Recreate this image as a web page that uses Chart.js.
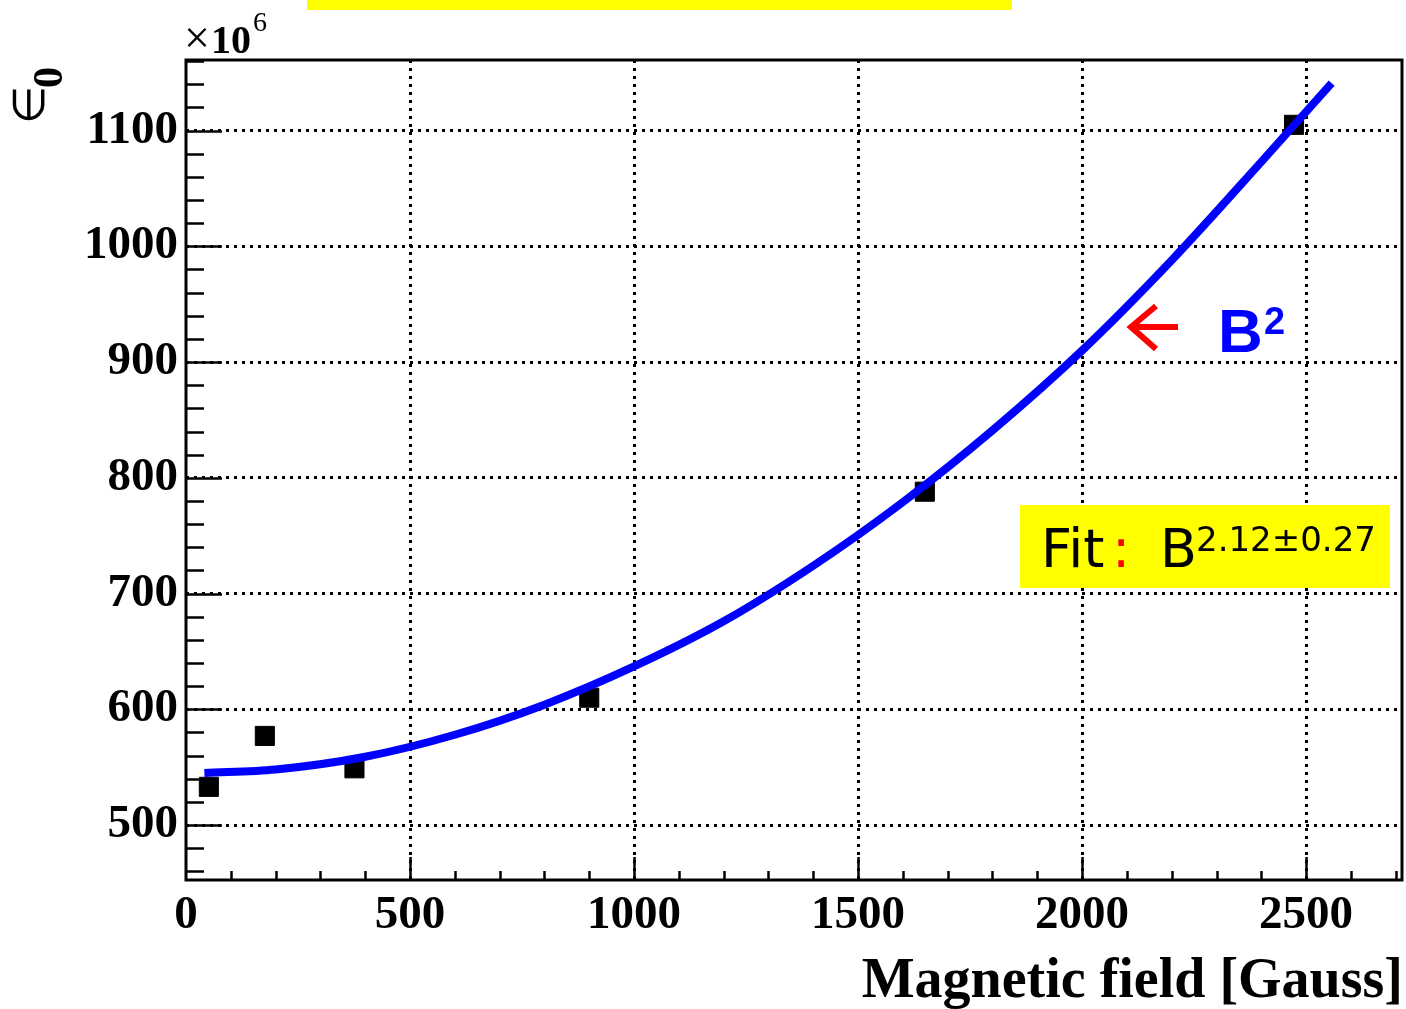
<!DOCTYPE html>
<html>
<head>
<meta charset="utf-8">
<title>epsilon0 vs magnetic field</title>
<script src="https://cdn.jsdelivr.net/npm/chart.js@4.4.0/dist/chart.umd.min.js"></script>
<style>
  html, body { margin: 0; padding: 0; background: #ffffff; }
  #wrap { width: 1406px; height: 1009px; }
</style>
</head>
<body>
<div id="wrap"><canvas id="fieldChart" width="1406" height="1009"></canvas></div>
<script>
// Measured points (x in Gauss, y in units of 10^6)
const fieldGauss = [51, 176, 376, 900, 1649, 2473];
const epsilon0 = [533, 577, 549, 610, 788, 1105];

// Fit curve
const fitField = [41, 200, 400, 600, 800, 1000, 1200, 1400, 1600, 1800, 2000, 2200, 2400, 2557];
const fitEps = [545, 548, 559, 578, 604, 637, 676, 724, 779, 841, 910, 988, 1073, 1141];

// Axis labels (major ticks)
const xMajorTicks = [0, 500, 1000, 1500, 2000, 2500];
const yMajorTicks = [500, 600, 700, 800, 900, 1000, 1100];

const serif = "'Liberation Serif', 'Times New Roman', serif";
const sans = "'Liberation Sans', Arial, sans-serif";
const comic = "'Comic Sans MS', 'DejaVu Sans', sans-serif";

// ROOT style frame, inner ticks and annotations
const rootFrame = {
  id: 'rootFrame',
  afterDraw(chart) {
    const { ctx, chartArea: a, scales: { x, y } } = chart;
    ctx.save();

    // ticks inside the frame
    ctx.strokeStyle = '#000';
    ctx.lineWidth = 2.5;
    ctx.beginPath();
    for (let v = Math.ceil(y.min / 20) * 20; v <= y.max; v += 20) {
      const py = Math.round(y.getPixelForValue(v)) + 0.5;
      const len = v % 100 === 0 ? 36 : 18;
      ctx.moveTo(a.left, py);
      ctx.lineTo(a.left + len, py);
    }
    for (let v = 100; v <= x.max; v += 100) {
      const px = Math.round(x.getPixelForValue(v)) + 0.5;
      const len = v % 500 === 0 ? 23 : 9;
      ctx.moveTo(px, a.bottom);
      ctx.lineTo(px, a.bottom - len);
    }
    ctx.stroke();

    // frame
    ctx.lineWidth = 3;
    ctx.strokeRect(a.left, a.top, a.right - a.left, a.bottom - a.top);

    // cut-off yellow title box at the very top
    ctx.fillStyle = '#ffff00';
    ctx.fillRect(307, 0, 705, 10);

    // x10^6
    ctx.fillStyle = '#000';
    ctx.textBaseline = 'alphabetic';
    ctx.textAlign = 'left';
    ctx.font = '46px ' + serif;
    ctx.fillText('\u00d7', 184, 53);
    ctx.font = 'bold 40px ' + serif;
    ctx.fillText('10', 211, 53);
    ctx.font = '28px ' + serif;
    ctx.fillText('6', 253, 31);

    // y axis title: epsilon_0, rotated
    ctx.save();
    ctx.translate(44, 124);
    ctx.rotate(-Math.PI / 2);
    ctx.font = '44px ' + serif;
    ctx.fillText('\u2208', 0, 0);
    ctx.font = 'bold 42px ' + serif;
    ctx.fillText('0', 36, 18);
    ctx.restore();

    // x axis title
    ctx.textAlign = 'right';
    ctx.font = 'bold 56px ' + serif;
    ctx.fillText('Magnetic field [Gauss]', 1403, 997);

    // red arrow pointing at the curve
    ctx.strokeStyle = '#ff0000';
    ctx.lineWidth = 6;
    ctx.lineCap = 'butt';
    ctx.beginPath();
    ctx.moveTo(1178, 327);
    ctx.lineTo(1130, 327);
    ctx.moveTo(1156, 306);
    ctx.lineTo(1131, 327);
    ctx.lineTo(1156, 349);
    ctx.stroke();

    // B^2 label
    ctx.fillStyle = '#0000ff';
    ctx.textAlign = 'left';
    ctx.font = 'bold 62px ' + sans;
    ctx.fillText('B', 1218, 352);
    ctx.font = 'bold 38px ' + sans;
    ctx.fillText('2', 1264, 334);

    // fit result box
    ctx.fillStyle = '#ffff00';
    ctx.fillRect(1020, 505, 370, 83);
    ctx.fillStyle = '#000';
    ctx.font = '54px ' + comic;
    ctx.fillText('Fit', 1041, 567);
    ctx.fillStyle = '#ff0000';
    ctx.fillText(':', 1112, 567);
    ctx.fillStyle = '#000';
    ctx.fillText('B', 1160, 567);
    ctx.font = '34px ' + comic;
    ctx.fillText('2.12\u00b10.27', 1196, 551);

    ctx.restore();
  }
};

new Chart(document.getElementById('fieldChart'), {
  type: 'scatter',
  data: {
    datasets: [
      {
        label: 'fit',
        data: fitField.map((v, i) => ({ x: v, y: fitEps[i] })),
        showLine: true,
        borderColor: '#0000ff',
        borderWidth: 8,
        cubicInterpolationMode: 'monotone',
        pointRadius: 0,
        fill: false
      },
      {
        label: 'data',
        data: fieldGauss.map((v, i) => ({ x: v, y: epsilon0[i] })),
        pointStyle: 'rect',
        pointRadius: 13.5,
        pointBackgroundColor: '#000',
        pointBorderColor: '#000',
        pointBorderWidth: 1
      }
    ]
  },
  options: {
    responsive: false,
    animation: false,
    layout: {
      autoPadding: false,
      padding: { top: 60, right: 4, bottom: 0, left: 0 }
    },
    plugins: {
      legend: { display: false },
      tooltip: { enabled: false }
    },
    scales: {
      x: {
        type: 'linear',
        min: 0,
        max: 2714,
        afterFit(scale) {
          scale.height = 129;
          scale.paddingLeft = 0;
          scale.paddingRight = 0;
        },
        afterBuildTicks(scale) { scale.ticks = xMajorTicks.map(v => ({ value: v })); },
        grid: {
          drawTicks: false,
          color: ctx => (ctx.tick && ctx.tick.value === 0 ? 'rgba(0,0,0,0)' : '#000'),
          lineWidth: 3
        },
        border: { display: false, dash: [3, 5] },
        ticks: {
          autoSkip: false,
          maxRotation: 0,
          padding: 8,
          color: '#000',
          font: { family: serif, size: 47, weight: 'bold' },
          callback: v => String(v)
        }
      },
      y: {
        type: 'linear',
        min: 452.5,
        max: 1161,
        afterFit(scale) {
          scale.width = 186;
          scale.paddingTop = 0;
          scale.paddingBottom = 0;
        },
        afterBuildTicks(scale) { scale.ticks = yMajorTicks.map(v => ({ value: v })); },
        grid: {
          drawTicks: false,
          color: '#000',
          lineWidth: 3
        },
        border: { display: false, dash: [3, 5] },
        ticks: {
          autoSkip: false,
          padding: 8,
          color: '#000',
          font: { family: serif, size: 47, weight: 'bold' },
          callback: v => String(v)
        }
      }
    }
  },
  plugins: [rootFrame]
});
</script>
</body>
</html>
